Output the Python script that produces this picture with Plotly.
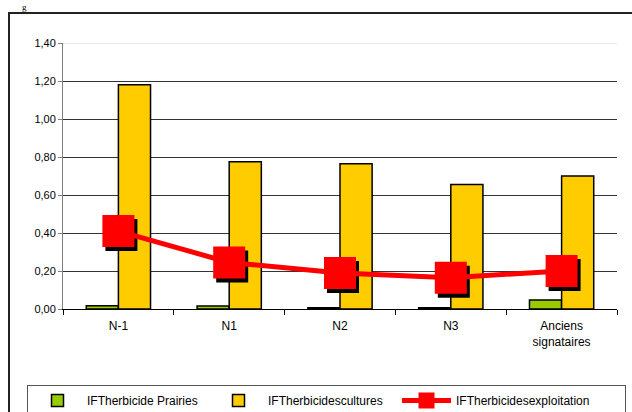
import plotly.graph_objects as go

# Categories and series values
categories = ["N-1", "N1", "N2", "N3", "Anciens<br>signataires"]
ift_prairies = [0.017, 0.016, 0.006, 0.006, 0.048]
ift_cultures = [1.18, 0.775, 0.765, 0.655, 0.70]
ift_exploitation = [0.41, 0.245, 0.19, 0.165, 0.20]
y_ticks = [0.0, 0.2, 0.4, 0.6, 0.8, 1.0, 1.2, 1.4]

FONT = "Liberation Sans, Arial, sans-serif"

# Page geometry (pixels)
W, H = 632, 412
ML, MR, MT, MB = 63, 15, 43, 103
PW, PH = W - ML - MR, H - MT - MB
Y_MAX = 1.4
ncat = len(categories)

def px_x(p):
    return (p - ML) / PW

def px_y(p):
    return (H - MB - p) / PH

# Shadow offset for the square markers, in pixels
SH_DX, SH_DY = 3, 4
dx_units = SH_DX / (PW / ncat)
dy_units = SH_DY / (PH / Y_MAX)

fig = go.Figure()

fig.add_trace(go.Bar(
    x=categories, y=ift_prairies, name="IFTherbicide Prairies",
    marker=dict(color="#99CC00", line=dict(color="#000000", width=1.5)),
    xaxis="x", yaxis="y", legendwidth=117,
))
fig.add_trace(go.Bar(
    x=categories, y=ift_cultures, name="IFTherbicidescultures",
    marker=dict(color="#FFCC00", line=dict(color="#000000", width=1.5)),
    xaxis="x", yaxis="y", legendwidth=124,
))

# Drop shadow of the exploitation markers (shifted axes)
fig.add_trace(go.Scatter(
    x=categories, y=ift_exploitation, mode="markers", showlegend=False,
    marker=dict(symbol="square", size=32, color="#000000", line=dict(width=0)),
    xaxis="x2", yaxis="y2", hoverinfo="skip",
))

fig.add_trace(go.Scatter(
    x=categories, y=ift_exploitation, mode="lines+markers",
    name="IFTherbicidesexploitation",
    line=dict(color="#FF0000", width=5),
    marker=dict(symbol="square", size=32, color="#FF0000", line=dict(width=0)),
    xaxis="x3", yaxis="y3", legendwidth=164,
))

hidden_x = dict(type="category", overlaying="x", visible=False, showgrid=False,
                categoryorder="array", categoryarray=categories)
hidden_y = dict(overlaying="y", visible=False, showgrid=False)

fig.update_layout(
    width=W, height=H,
    margin=dict(l=ML, r=MR, t=MT, b=MB, pad=0, autoexpand=False),
    paper_bgcolor="white", plot_bgcolor="white",
    separators=", ",
    barmode="group", bargap=0.42, bargroupgap=0.0,
    font=dict(family=FONT, size=11, color="#000000"),
    xaxis=dict(
        type="category", categoryorder="array", categoryarray=categories,
        range=[-0.5, ncat - 0.5],
        showline=True, linecolor="#000000", linewidth=1,
        ticks="outside", tickson="boundaries", ticklen=5, tickcolor="#000000",
        showgrid=False, tickfont=dict(family=FONT, size=12),
        ticklabelstandoff=6,
    ),
    yaxis=dict(
        range=[0, Y_MAX], tickvals=y_ticks, tickformat=".2f",
        showline=True, linecolor="#808080", linewidth=1,
        ticks="outside", ticklen=4, tickcolor="#808080",
        showgrid=True, gridcolor="#333333", gridwidth=1,
        zeroline=False, tickfont=dict(family=FONT, size=11),
    ),
    xaxis2=dict(hidden_x, range=[-0.5 - dx_units, ncat - 0.5 - dx_units]),
    yaxis2=dict(hidden_y, range=[dy_units, Y_MAX + dy_units]),
    xaxis3=dict(hidden_x, range=[-0.5, ncat - 0.5]),
    yaxis3=dict(hidden_y, range=[0, Y_MAX]),
    legend=dict(
        orientation="h", x=px_x(27), xanchor="left", y=px_y(385), yanchor="top",
        bordercolor="#555555", borderwidth=1, bgcolor="white",
        font=dict(family=FONT, size=12), traceorder="normal",
        itemwidth=49,
    ),
    shapes=[
        # lighter top gridline at 1,40
        dict(type="line", xref="paper", yref="y", x0=0, x1=1, y0=Y_MAX, y1=Y_MAX,
             line=dict(color="#E0E0E0", width=1.5), layer="above"),
        # outer frame around the chart
        dict(type="rect", xref="paper", yref="paper",
             x0=px_x(9), x1=px_x(W + 10), y0=px_y(13), y1=px_y(H + 10),
             line=dict(color="#222222", width=2), layer="below"),
    ],
    annotations=[
        dict(text="g", xref="paper", yref="paper", x=px_x(24), y=px_y(0),
             xanchor="center", yanchor="top", showarrow=False,
             font=dict(family="Liberation Serif, serif", size=9, color="#000000")),
    ],
)

fig.write_html("out.html")
